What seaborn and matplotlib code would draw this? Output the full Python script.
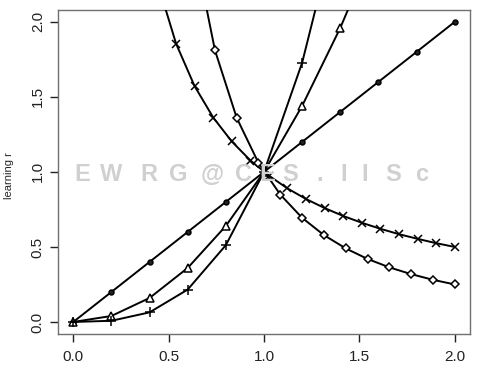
import matplotlib
matplotlib.use("Agg")
import matplotlib.pyplot as plt
import seaborn as sns
import pandas as pd

# ---- data ----
x_lin = [0.0, 0.2, 0.4, 0.6, 0.8, 1.0, 1.2, 1.4, 1.6, 1.8, 2.0]
y_lin = [0.0, 0.2, 0.4, 0.6, 0.8, 1.0, 1.2, 1.4, 1.6, 1.8, 2.0]

x_sq = [0.0, 0.2, 0.4, 0.6, 0.8, 1.0, 1.2, 1.4, 1.6]
y_sq = [0.0, 0.04, 0.16, 0.36, 0.64, 1.0, 1.44, 1.96, 2.56]

x_cu = [0.0, 0.2, 0.4, 0.6, 0.8, 1.0, 1.2, 1.4]
y_cu = [0.0, 0.008, 0.064, 0.216, 0.512, 1.0, 1.728, 2.744]

x_inv = [0.442, 0.539, 0.636, 0.734, 0.831, 0.929, 1.026, 1.123, 1.221,
         1.318, 1.416, 1.513, 1.610, 1.708, 1.805, 1.903, 2.0]
y_inv = [2.26, 1.855, 1.572, 1.362, 1.203, 1.076, 0.975, 0.890, 0.819,
         0.759, 0.706, 0.661, 0.621, 0.585, 0.554, 0.525, 0.50]

x_invsq = [0.629, 0.743, 0.857, 0.971, 1.086, 1.200, 1.314, 1.429, 1.543,
           1.657, 1.771, 1.886, 2.0]
y_invsq = [2.53, 1.81, 1.36, 1.06, 0.848, 0.694, 0.579, 0.490, 0.420,
           0.364, 0.319, 0.281, 0.25]

x_ticks = [0.0, 0.5, 1.0, 1.5, 2.0]
y_ticks = [0.0, 0.5, 1.0, 1.5, 2.0]
tick_labels = ["0.0", "0.5", "1.0", "1.5", "2.0"]
y_label = "learning r"
watermark = list("EWRG@CES.IISc")

sns.set_theme(style="white")
plt.rcParams['font.family'] = ['Liberation Sans', 'DejaVu Sans']

fig = plt.figure(figsize=(5.0, 3.65), dpi=100)
ax = fig.add_axes([0.116, 0.085, 0.824, 0.888])

# watermark behind the lines
wm_px = [82.3, 110.7, 149, 178.3, 211.7, 243.3, 267, 290, 320, 343.3, 365, 393.3, 421.7]
for ch, px in zip(watermark, wm_px):
    fig.text(px / 500, 1 - 174 / 365, ch, ha="center", va="center",
             fontsize=17, fontweight="bold", color="#d0d0d0", zorder=0)

series = [
    (x_lin, y_lin, "o", 3.5, "#222222"),
    (x_sq, y_sq, "^", 6.0, "white"),
    (x_cu, y_cu, "+", 7.5, "black"),
    (x_inv, y_inv, "x", 5.5, "black"),
    (x_invsq, y_invsq, "D", 4.5, "white"),
]
for xs, ys, mk, ms, fc in series:
    df = pd.DataFrame({"x": xs, "y": ys})
    sns.lineplot(data=df, x="x", y="y", ax=ax, color="black", linewidth=1.4,
                 marker=mk, markersize=ms, markerfacecolor=fc,
                 markeredgecolor="black", markeredgewidth=1.1, zorder=3)

ax.patch.set_alpha(0)
ax.set_xlim(-0.08, 2.08)
ax.set_ylim(-0.08, 2.08)
ax.set_xticks(x_ticks)
ax.set_xticklabels(tick_labels)
ax.set_yticks(y_ticks)
ax.set_yticklabels(tick_labels, rotation=90, va="center")
ax.set_xlabel("")
ax.set_ylabel(y_label, fontsize=8)
ax.yaxis.set_label_coords(-0.106, 0.49)
ax.tick_params(axis="both", direction="out", length=5.5, width=1,
               color="#222222", labelsize=11, labelcolor="#222222",
               bottom=True, left=True)
ax.tick_params(axis="x", pad=6)
ax.tick_params(axis="y", pad=4)
for s in ax.spines.values():
    s.set_visible(True)
    s.set_color("#707070")
    s.set_linewidth(1.0)

fig.savefig("out.png", dpi=100)
